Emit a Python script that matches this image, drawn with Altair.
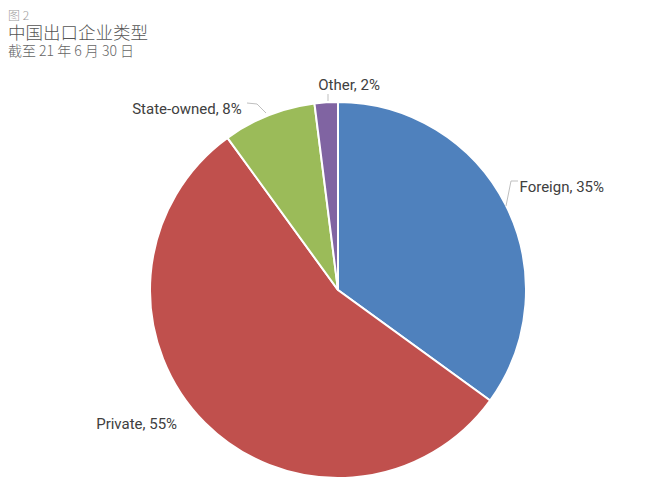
import altair as alt
import pandas as pd

categories = ["Foreign", "Private", "State-owned", "Other"]
shares = [35, 55, 8, 2]
colors = ["#4F81BD", "#C0504D", "#9BBB59", "#8064A2"]
order_idx = [0, 1, 2, 3]

df = pd.DataFrame({"category": categories, "share": shares, "ord": order_idx})

CX, CY, R = 330, 282, 188
LABEL_FONT = "Roboto"
CJK = "Noto Sans CJK SC"

base = alt.Chart(df).encode(
    theta=alt.Theta("share:Q", stack=True),
    order=alt.Order("ord:Q", sort="ascending"),
    x=alt.value(CX),
    y=alt.value(CY),
)

pie = base.mark_arc(outerRadius=R, stroke="white", strokeWidth=2).encode(
    color=alt.Color("category:N",
                    scale=alt.Scale(domain=categories, range=colors),
                    legend=None)
)


def label_layer(cat, align, dx, dy):
    return base.transform_calculate(
        lab=f"datum.category == '{cat}' ? datum.category + ', ' + datum.share + '%' : ''"
    ).mark_text(
        radius=R, align=align, baseline="middle", dx=dx, dy=dy,
        font=LABEL_FONT, fontSize=15, color="#404040"
    ).encode(text="lab:N")


labels = [
    label_layer("Foreign", "left", 14, -18),
    label_layer("Private", "right", -28, 1),
    label_layer("State-owned", "right", -27, -6),
    label_layer("Other", "left", -8, -17),
]

one = alt.Data(values=[{}])


def rule(x1, y1, x2, y2):
    return alt.Chart(one).mark_rule(color="#bfbfbf", strokeWidth=1).encode(
        x=alt.value(x1), y=alt.value(y1), x2=alt.value(x2), y2=alt.value(y2)
    )


leaders = [
    rule(498, 198, 503, 173), rule(503, 173, 510, 173),
    rule(239, 95, 249, 96), rule(249, 96, 258, 105),
    rule(320, 93, 320, 86),
]


def title_text(txt, y, size, color):
    return alt.Chart(one).mark_text(
        align="left", baseline="middle", font=CJK, fontSize=size,
        color=color, fontWeight=300
    ).encode(x=alt.value(0), y=alt.value(y), text=alt.value(txt))


titles = [
    title_text("图 2", 8, 12, "#9a9a9a"),
    title_text("中国出口企业类型", 26, 17.5, "#555555"),
    title_text("截至 21 年 6 月 30 日", 44, 14, "#666666"),
]

chart = alt.layer(pie, *labels, *leaders, *titles).properties(
    width=644, height=478, autosize=alt.AutoSizeParams(type="none"), padding=0
).configure_view(stroke=None)

chart.save("out.html", embed_options={"renderer": "svg", "actions": False})
